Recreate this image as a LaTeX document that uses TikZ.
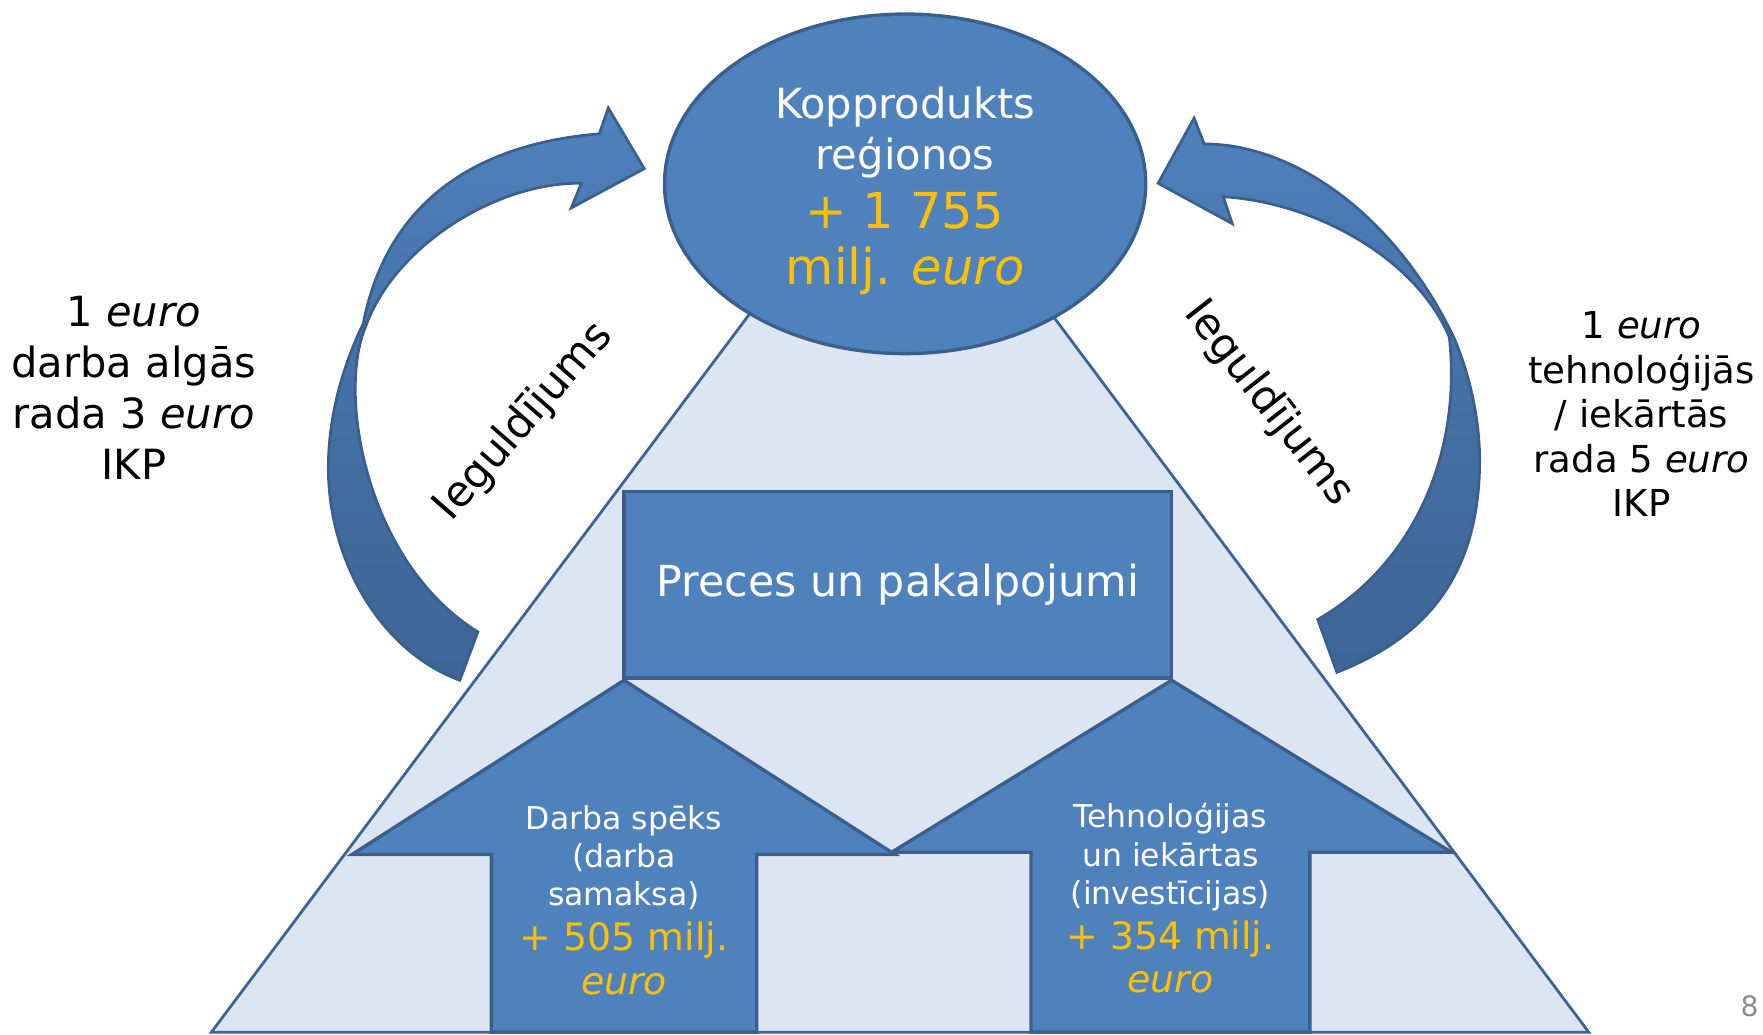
\documentclass[tikz,border=0pt]{standalone}
\usepackage{fontspec}
\setmainfont{DejaVu Sans}
\usetikzlibrary{shapes.geometric}
\definecolor{accent}{HTML}{4F81BD}
\definecolor{accentdark}{HTML}{3A5F8D}
\definecolor{accentlight}{HTML}{DCE6F2}
\definecolor{arrowdark}{HTML}{3D6595}
\definecolor{gold}{HTML}{FFC000}
\definecolor{pagegrey}{HTML}{8A8A8A}
\newcommand\yel[1]{\textcolor{gold}{#1}}
\newcommand\gdpline[1]{{\fontsize{22}{25}\selectfont#1}}
\newcommand\sumline[1]{{\fontsize{16.8}{20}\selectfont#1}}

\begin{document}
\begin{tikzpicture}[x=0.5pt,y=-0.5pt,
	every node/.style={inner sep=0pt,align=center},
	plate/.style={draw=accentdark,line width=1.5pt,fill=accent},
	bubble/.style={plate,ellipse,minimum width=214pt,minimum height=151pt},
	goods/.style={plate,rectangle,minimum width=243.5pt,minimum height=83pt,text=white,font=\fontsize{19}{23}\selectfont},
	bent/.style={draw=accentdark,line width=1.2pt,top color=accent,bottom color=arrowdark,middle color=accent!40!arrowdark},
	inarrow/.style={text=white,font=\fontsize{14}{17}\selectfont},
	sidenote/.style={font=\fontsize{18.5}{22.7}\selectfont}]
\useasboundingbox (0,0) rectangle (1568,920);
\coordinate (apex) at (801,100);
\coordinate (baseL) at (188,918);
\coordinate (baseR) at (1413,918);
\draw[draw=accentdark!85!accent,line width=1.25pt,fill=accentlight] (apex) -- (baseR) -- (baseL) -- cycle;
% bent arrows
\draw[bent] (409,605) .. controls (340,580) and (292,500) .. (292,416)
	.. controls (292,370) and (305,325) .. (323,288)
	.. controls (340,200) and (400,130) .. (533,119)
	-- (541,96) -- (573,150) -- (508,185) -- (517,163)
	.. controls (440,162) and (350,220) .. (325,291)
	.. controls (300,350) and (325,500) .. (425,562) -- cycle;
\draw[bent] (1071,128) .. controls (1150,128) and (1240,190) .. (1293,300)
	.. controls (1310,340) and (1316,380) .. (1316,409)
	.. controls (1316,520) and (1260,570) .. (1189,598)
	-- (1172,551)
	.. controls (1260,500) and (1300,400) .. (1289,300)
	.. controls (1260,230) and (1170,180) .. (1088,175)
	-- (1096,199) -- (1030,163) -- (1062,105) -- cycle;
\node[bubble] (gdp) at (805,163.5) {};
\node[text=white,font=\fontsize{18.5}{22.8}\selectfont] (gdptext) at (805,170)
	{Kopprodukts\\reģionos\\[3pt]\gdpline{\yel{+ 1 755}}\\[2.5pt]\gdpline{\yel{milj. \textit{euro}}}};
\node[goods] (goodsbox) at (798.5,520) {Preces un pakalpojumi};
% up arrows
\draw[plate] (555,605) -- (796,760) -- (673,760) -- (673,918) -- (437,918) -- (437,760) -- (313,760) -- cycle;
\draw[plate] (1042,605) -- (1291,758) -- (1165,758) -- (1165,918) -- (917,918) -- (917,758) -- (793,758) -- cycle;
\node[inarrow] (labour) at (555,800.6)
	{Darba spēks\\(darba\\samaksa)\\[3pt]\sumline{\yel{+ 505 milj.}}\\[2.3pt]\sumline{\yel{\textit{euro}}}};
\node[inarrow] (tech) at (1041,799)
	{Tehnoloģijas\\un iekārtas\\(investīcijas)\\[3pt]\sumline{\yel{+ 354 milj.}}\\[2.3pt]\sumline{\yel{\textit{euro}}}};
\node[sidenote] (wagesnote) at (119,345) {1 \textit{euro}\\darba algās\\rada 3 \textit{euro}\\IKP};
\node[sidenote,font=\fontsize{16.5}{19.8}\selectfont] (technote) at (1460,368.3)
	{1 \textit{euro}\\tehnoloģijās\\/ iekārtās\\rada 5 \textit{euro}\\IKP};
\node[rotate=49,font=\fontsize{19}{23}\selectfont] (investL) at (466,375) {Ieguldījums};
\node[rotate=-52,font=\fontsize{19}{23}\selectfont] (investR) at (1128,359) {Ieguldījums};
\node[text=pagegrey,font=\fontsize{12.5}{15}\selectfont] (pageno) at (1556,895) {8};
\end{tikzpicture}
\end{document}
